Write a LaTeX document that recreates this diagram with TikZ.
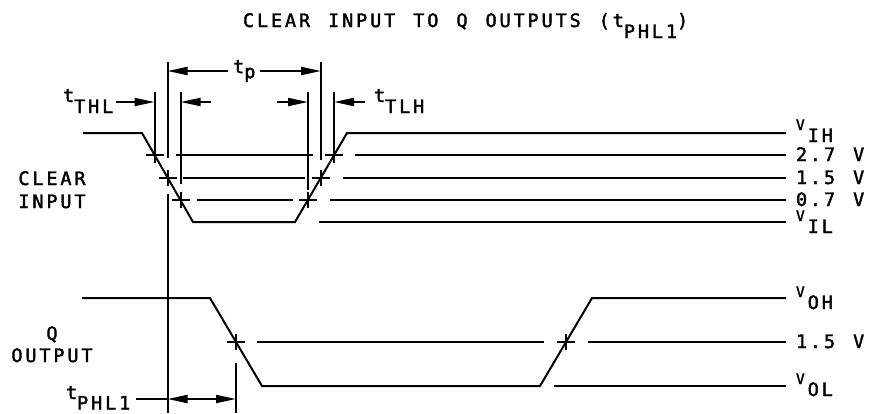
\documentclass[tikz,border=0pt]{standalone}
\usepackage{fontspec}
\newfontfamily\cadfont[LetterSpace=15.5,FakeBold=2]{DejaVu Sans Mono}
\usetikzlibrary{arrows.meta}

% lowered subscript, small symbol letter
\newcommand{\lo}[2][12pt]{\raisebox{-#1}{#2}}
\newcommand{\symv}{{\fontsize{14.5}{16}\cadfont V}\hspace{3pt}}

\tikzset{
  lbl/.style={inner sep=0pt,anchor=base west,
    font=\fontsize{18.5}{21}\cadfont,
    execute at begin node={\spaceskip=18pt\relax}},
}

\begin{document}
\begin{tikzpicture}[x=1pt,y=-1pt,line width=2pt,>={Triangle[length=20pt,width=8pt]}]
\useasboundingbox (0,0) rectangle (869,413);
% title
\node[lbl] (title) at (242,27) {CLEAR INPUT TO Q OUTPUTS (t\lo[11pt]{PHL1})};

% crossing points
\coordinate (f27) at (154.5,155);
\coordinate (f15) at (167.5,178);
\coordinate (f07) at (180.5,200);
\coordinate (r07) at (308,200);
\coordinate (r15) at (321,178);
\coordinate (r27) at (334,155);
\coordinate (qf) at (236,342);
\coordinate (qr) at (566,342);

% clear input
\draw (83,133) -- (142,133) -- (193,222) -- (295,222) -- (347,133) -- (786,133);
\draw (176,155) -- (313,155) (355,155) -- (786,155);
\draw (183,178) -- (305,178) (343,178) -- (786,178);
\draw (197,200) -- (293,200) (330,200) -- (786,200);
\draw (319,222) -- (786,222);

% q output
\draw (82,298) -- (210,298) -- (262,386) -- (540,386) -- (592,298) -- (786,298);
\draw (257,342) -- (544,342) (588,342) -- (786,342);
\draw (554,386) -- (786,386);

% crossing marks
\foreach \p in {f27,f15,f07,r07,r15,r27,qf,qr}
  \draw ([xshift=-9pt]\p) -- ([xshift=9pt]\p) ([yshift=-8pt]\p) -- ([yshift=8pt]\p);

% reference verticals
\draw (f27 |- 0,92) -- (f27 |- 0,163);
\draw (f15 |- 0,62) -- (f15 |- 0,158) (f15 |- 0,194) -- (f15 |- 0,413);
\draw (f07 |- 0,92) -- (f07 |- 0,184);
\draw (r07 |- 0,92) -- (r07 |- 0,190);
\draw (r15 |- 0,62) -- (r15 |- 0,160);
\draw (r27 |- 0,92) -- (r27 |- 0,163);
\draw (qf |- 0,363) -- (qf |- 0,413);

% level labels
\node[lbl] (vih) at (795,130) {\symv\lo{IH}};
\node[lbl] (v27) at (795,161) {2.7 V};
\node[lbl] (v15a) at (795,184) {1.5 V};
\node[lbl] (v07) at (795,206) {0.7 V};
\node[lbl] (vil) at (795,221) {\symv\lo{IL}};
\node[lbl] (voh) at (795,297) {\symv\lo{OH}};
\node[lbl] (v15b) at (795,348) {1.5 V};
\node[lbl] (vol) at (795,384) {\symv\lo{OL}};

% signal names
\node[lbl,anchor=base] (clr) at (52,185) {CLEAR};
\node[lbl,anchor=base] (inp) at (52,208) {INPUT};
\node[lbl,anchor=base] (q) at (52,340) {Q};
\node[lbl,anchor=base] (outp) at (52,362) {OUTPUT};

% timing
\node[lbl] (tthl) at (62,102) {t\lo[11pt]{THL}};
\node[lbl] (ttlh) at (373,102) {t\lo[11pt]{TLH}};
\node[lbl] (tphl) at (65,399) {t\lo[10.5pt]{PHL1}};
\coordinate (thlr) at (211,102);
\coordinate (tlhl) at (277,102);
\draw[->] ([xshift=2pt]tthl.base east) -- (f27 |- tthl.base);
\draw[->] (thlr) -- (f07 |- thlr);
\draw[->] (tlhl) -- (r07 |- tlhl);
\draw[->] ([xshift=-8pt]ttlh.base west) -- (r27 |- ttlh.base);
\draw[<->] (f15 |- 0,71) -- (r15 |- 0,71)
  node[midway,lbl,anchor=center,fill=white,inner xsep=5pt] (tp) {t\lo[5pt]{p}};
\draw ([xshift=5pt]tphl.base east) -- (f15 |- tphl.base);
\draw[<->] (f15 |- tphl.base) -- (qf |- tphl.base);
\end{tikzpicture}
\end{document}
